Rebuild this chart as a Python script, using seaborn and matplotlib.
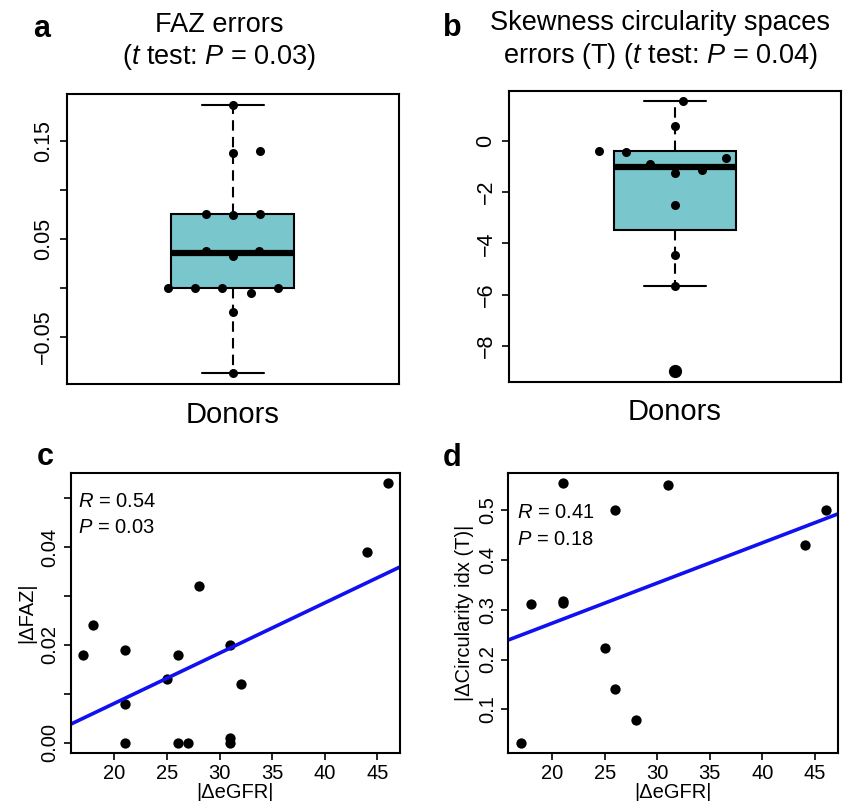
import numpy as np
import matplotlib
matplotlib.use("Agg")
import matplotlib.pyplot as plt
import matplotlib.cbook as cbook
import seaborn as sns

# ---------------- data ----------------
faz_errors = [0.187, 0.1375, 0.140, 0.076, 0.076, 0.075, 0.038, 0.038, 0.033,
              0.0, 0.0, 0.0, 0.0, -0.005, -0.024, -0.087]
skew_errors = [1.53, 0.57, -0.39, -0.44, -0.69, -0.90, -1.13, -1.27, -2.52,
               -4.45, -5.66, -8.96]
egfr_c = [17, 18, 21, 21, 21, 25, 26, 26, 27, 28, 31, 31, 31, 32, 44, 46]
dfaz = [0.018, 0.024, 0.019, 0.008, 0.0, 0.013, 0.018, 0.0, 0.0, 0.032,
        0.020, 0.001, 0.0, 0.012, 0.039, 0.053]
egfr_d = [17, 18, 21, 21, 21, 25, 26, 26, 28, 31, 44, 46]
dcirc = [0.033, 0.311, 0.313, 0.318, 0.554, 0.224, 0.501, 0.140, 0.079,
         0.550, 0.431, 0.500]

a_yticks = [-0.05, 0.0, 0.05, 0.10, 0.15]
a_yticklabels = ["\u22120.05", "", "0.05", "", "0.15"]
b_yticks = [0, -2, -4, -6, -8]
b_yticklabels = ["0", "\u22122", "\u22124", "\u22126", "\u22128"]
c_yticks = [0.0, 0.01, 0.02, 0.03, 0.04, 0.05]
c_yticklabels = ["0.00", "", "0.02", "", "0.04", ""]
d_yticks = [0.1, 0.2, 0.3, 0.4, 0.5]
d_yticklabels = ["0.1", "0.2", "0.3", "0.4", "0.5"]
x_ticks = [20, 25, 30, 35, 40, 45]

title_a = ["FAZ errors", r"($\mathit{t}$ test: $\mathit{P}$ = 0.03)"]
title_b = ["Skewness circularity spaces", r"errors (T) ($\mathit{t}$ test: $\mathit{P}$ = 0.04)"]
stat_c = [r"$\mathit{R}$ = 0.54", r"$\mathit{P}$ = 0.03"]
stat_d = [r"$\mathit{R}$ = 0.41", r"$\mathit{P}$ = 0.18"]

BOX = "#79C6CD"
LINE_BLUE = "#1010F0"

# ---------------- style ----------------
sns.set_theme(style="ticks")
plt.rcParams["font.family"] = ["Liberation Sans", "DejaVu Sans"]
plt.rcParams["mathtext.fontset"] = "custom"
plt.rcParams["mathtext.rm"] = "Liberation Sans"
plt.rcParams["mathtext.it"] = "Liberation Sans:italic"
plt.rcParams["axes.edgecolor"] = "black"
plt.rcParams["axes.linewidth"] = 1.5
plt.rcParams["xtick.color"] = "black"
plt.rcParams["ytick.color"] = "black"
plt.rcParams["xtick.major.size"] = 5
plt.rcParams["ytick.major.size"] = 5
plt.rcParams["xtick.major.width"] = 1.2
plt.rcParams["ytick.major.width"] = 1.2
plt.rcParams["text.color"] = "black"
plt.rcParams["axes.labelcolor"] = "black"

# R-style (Tukey hinge / fivenum) box statistics
_orig_stats = cbook.boxplot_stats


def _fivenum_stats(X, whis=1.5, bootstrap=None, labels=None, autorange=False):
    out = _orig_stats(X, whis=whis, bootstrap=bootstrap, labels=labels,
                      autorange=autorange)
    x = np.sort(np.asarray(X, dtype=float).ravel())
    n = len(x)
    n4 = np.floor((n + 3) / 2) / 2
    d = np.array([n4, n + 1 - n4]) - 1
    q1, q3 = [0.5 * (x[int(np.floor(v))] + x[int(np.ceil(v))]) for v in d]
    iqr = q3 - q1
    lo, hi = q1 - whis * iqr, q3 + whis * iqr
    s = out[0]
    s["q1"], s["q3"], s["iqr"] = q1, q3, iqr
    s["whislo"] = x[x >= lo].min()
    s["whishi"] = x[x <= hi].max()
    s["fliers"] = x[(x < lo) | (x > hi)]
    return out


cbook.boxplot_stats = _fivenum_stats


def r_limits(v):
    v = np.asarray(v, dtype=float)
    r = v.max() - v.min()
    return v.min() - 0.04 * r, v.max() + 0.04 * r


fig = plt.figure(figsize=(8.44, 8.01), dpi=100)

ax_a = fig.add_axes([0.0790, 0.5206, 0.3937, 0.3620])
ax_b = fig.add_axes([0.6031, 0.5235, 0.3934, 0.3633])
ax_c = fig.add_axes([0.0838, 0.0599, 0.3902, 0.3496])
ax_d = fig.add_axes([0.6023, 0.0599, 0.3903, 0.3496])

box_kw = dict(width=0.37, color=BOX, saturation=1, linecolor="black",
              linewidth=1.5,
              whiskerprops=dict(linestyle=(0, (5, 3))),
              medianprops=dict(linewidth=4.5, solid_capstyle="butt"))

SWARM_SPACING = 18.5   # beeswarm spacing (pt), as R's beeswarm spacing
DOT = 6.5              # visible dot diameter (pt)

# ---- panel a ----
sns.boxplot(y=faz_errors, ax=ax_a, showfliers=False, **box_kw)
sns.swarmplot(y=faz_errors, ax=ax_a, color="black", size=SWARM_SPACING)
ax_a.set_xlim(-0.5, 0.5)
ax_a.set_ylim(*r_limits(faz_errors))
ax_a.set_yticks(a_yticks)
ax_a.set_yticklabels(a_yticklabels)

# ---- panel b ----
sns.boxplot(y=skew_errors, ax=ax_b, showfliers=True,
            flierprops=dict(marker="o", markerfacecolor="black",
                            markeredgecolor="black", markersize=8.5),
            **box_kw)
sns.swarmplot(y=skew_errors, ax=ax_b, color="black", size=SWARM_SPACING)
ax_b.set_xlim(-0.5, 0.5)
ax_b.set_ylim(*r_limits(skew_errors))
ax_b.set_yticks(b_yticks)
ax_b.set_yticklabels(b_yticklabels)

for ax in (ax_a, ax_b):
    ax.set_xticks([])
    ax.set_xlabel("Donors", fontsize=21, labelpad=12)
    ax.tick_params(axis="y", labelsize=15.5, labelrotation=90, pad=4)
    for lab in ax.get_yticklabels():
        lab.set_va("center")

# ---- panel c / d ----
for ax, xs, ys, yt, ytl, ylab in (
    (ax_c, egfr_c, dfaz, c_yticks, c_yticklabels, "|\u0394FAZ|"),
    (ax_d, egfr_d, dcirc, d_yticks, d_yticklabels, "|\u0394Circularity idx (T)|"),
):
    ax.set_xlim(*r_limits(xs))
    ax.set_ylim(*r_limits(ys))
    sns.regplot(x=xs, y=ys, ax=ax, ci=None, truncate=False,
                scatter_kws=dict(color="black", s=55, linewidths=0, alpha=1),
                line_kws=dict(color=LINE_BLUE, lw=2.6))
    ax.set_xlim(*r_limits(xs))
    ax.set_ylim(*r_limits(ys))
    ax.set_xticks(x_ticks)
    ax.set_yticks(yt)
    ax.set_yticklabels(ytl)
    ax.tick_params(axis="both", labelsize=14.5, pad=3)
    ax.tick_params(axis="y", labelrotation=90)
    for lab in ax.get_yticklabels():
        lab.set_va("center")
    ax.set_xlabel("|\u0394eGFR|", fontsize=14.5, labelpad=0)
    ax.set_ylabel(ylab, fontsize=14.5, labelpad=3)

ax_c.text(0.022, 0.880, stat_c[0], transform=ax_c.transAxes, fontsize=14.5, va="baseline")
ax_c.text(0.022, 0.786, stat_c[1], transform=ax_c.transAxes, fontsize=14.5, va="baseline")
ax_d.text(0.026, 0.839, stat_d[0], transform=ax_d.transAxes, fontsize=14.5, va="baseline")
ax_d.text(0.026, 0.743, stat_d[1], transform=ax_d.transAxes, fontsize=14.5, va="baseline")

# ---- titles ----
fig.text(0.2595, 0.960, title_a[0], ha="center", va="baseline", fontsize=19.5)
fig.text(0.2595, 0.920, title_a[1], ha="center", va="baseline", fontsize=19.5)
fig.text(0.782, 0.9625, title_b[0], ha="center", va="baseline", fontsize=19.5)
fig.text(0.782, 0.9213, title_b[1], ha="center", va="baseline", fontsize=19.5)

# ---- panel letters ----
for x, y, s in ((0.039, 0.9538, "a"), (0.5249, 0.955, "b"),
                (0.0438, 0.4195, "c"), (0.5249, 0.418, "d")):
    fig.text(x, y, s, fontsize=22, fontweight="bold", ha="left", va="baseline")

# lay out the swarms with the wide spacing, then freeze them, mirror them
# (R's beeswarm fills the other side first) and shrink the dots
fig.canvas.draw()
for ax in (ax_a, ax_b):
    swarm = ax.collections[-1]
    if "draw" in swarm.__dict__:
        del swarm.draw
    off = np.array(swarm.get_offsets(), dtype=float)
    off[:, 0] = -off[:, 0]
    swarm.set_offsets(off)
    swarm.set_sizes([DOT ** 2])

fig.savefig("out.png", dpi=100)
